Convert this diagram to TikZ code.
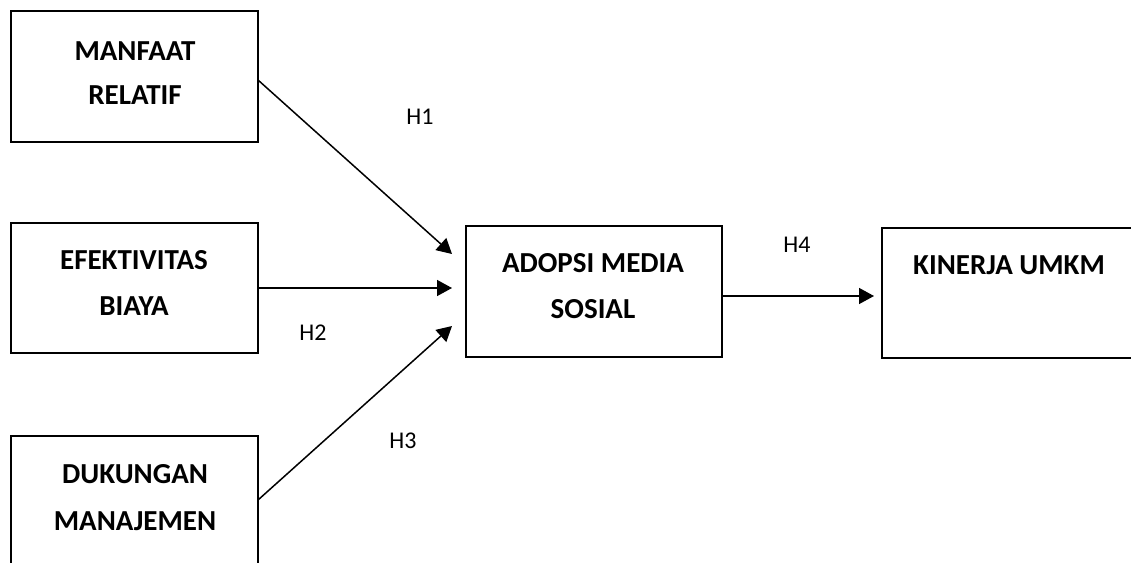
\documentclass[tikz,border=0pt]{standalone}
\usepackage{fontspec}
\setmainfont{Carlito}
\usetikzlibrary{arrows.meta}
\begin{document}
\begin{tikzpicture}[x=1pt,y=-1pt,
  box/.style={draw=black,line width=1.7pt,rectangle,inner sep=0pt,fill=none},
  ttl/.style={anchor=base,inner sep=0pt,font=\fontsize{29}{35}\selectfont\bfseries},
  hyp/.style={anchor=base,inner sep=0pt,font=\fontsize{24}{28}\selectfont},
  conn/.style={line width=1.5pt,-{Triangle[length=15pt,width=16pt]}}]
\useasboundingbox (0,0) rectangle (1131,562);
\clip (0,0) rectangle (1131,562);
% boxes
\node[box,minimum width=247pt,minimum height=131pt] (m) at (134.5,76.5) {};
\node[box,minimum width=247pt,minimum height=130pt] (e) at (134.5,288) {};
\node[box,minimum width=247pt,minimum height=130pt] (d) at (134.5,501) {};
\node[box,minimum width=256pt,minimum height=131pt] (a) at (594,291.5) {};
\node[box,minimum width=258pt,minimum height=130pt] (k) at (1011,293) {};
% texts
\node[ttl] (m1) at (135,60) {MANFAAT};
\node[ttl] (m2) at (135,104) {RELATIF};
\node[ttl] (e1) at (134,269) {EFEKTIVITAS};
\node[ttl] (e2) at (134,315) {BIAYA};
\node[ttl] (d1) at (135,483) {DUKUNGAN};
\node[ttl] (d2) at (135,530) {MANAJEMEN};
\node[ttl] (a1) at (593,272) {ADOPSI MEDIA};
\node[ttl] (a2) at (593,318) {SOSIAL};
\node[ttl] (k1) at (1009,274) {KINERJA UMKM};
% labels
\node[hyp] (h1) at (420,124) {H1};
\node[hyp] (h2) at (313,340) {H2};
\node[hyp] (h3) at (403,448) {H3};
\node[hyp] (h4) at (797,252) {H4};
% connector ends
\coordinate (s1) at (258,80);
\coordinate (s3) at (258,500);
\coordinate (t1) at (452,254);
\coordinate (t2) at (452,288);
\coordinate (t3) at (452,326);
\coordinate (s4) at (722,296);
\coordinate (t4) at (874,296);
\draw[conn] (s1) -- (t1);
\draw[conn] (e.east) -- (t2);
\draw[conn] (s3) -- (t3);
\draw[conn] (s4) -- (t4);
\end{tikzpicture}
\end{document}
